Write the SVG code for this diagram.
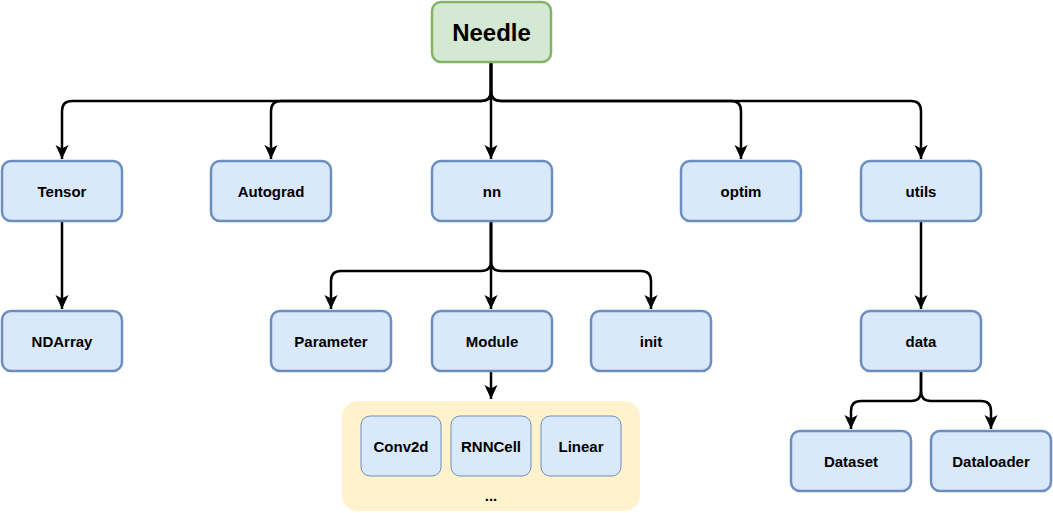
<svg xmlns="http://www.w3.org/2000/svg" width="1053" height="513" viewBox="0 0 1053 513">
<style>
.box{fill:#dae8fc;stroke:#6c8ebf;stroke-width:2.5}
.inner{fill:#dae8fc;stroke:#6c8ebf;stroke-width:1}
.root{fill:#d5e8d4;stroke:#82b366;stroke-width:2.5}
.lbl{font-family:"Liberation Sans",Arial,sans-serif;font-weight:bold;font-size:15px;fill:#000;text-anchor:middle;dominant-baseline:central}
.big{font-size:24px}
.edge{fill:none;stroke:#000;stroke-width:2.5}
</style>
<defs>
<marker id="arr" markerUnits="userSpaceOnUse" markerWidth="16" markerHeight="16" viewBox="0 0 16 16" refX="14" refY="8" orient="auto">
<path d="M0,1.5 L14,8 L0,14.5 L3.5,8 Z" fill="#000"/>
</marker>
</defs>
<g id="connectors">
<path class="edge" marker-end="url(#arr)" d="M491,62 L491,91 Q491,101 481,101 L72,101 Q62,101 62,111 L62,159"/>
<path class="edge" marker-end="url(#arr)" d="M491,62 L491,91 Q491,101 481,101 L281,101 Q271,101 271,111 L271,159"/>
<path class="edge" marker-end="url(#arr)" d="M491,62 L491,159"/>
<path class="edge" marker-end="url(#arr)" d="M491,62 L491,91 Q491,101 501,101 L731,101 Q741,101 741,111 L741,159"/>
<path class="edge" marker-end="url(#arr)" d="M491,62 L491,91 Q491,101 501,101 L911,101 Q921,101 921,111 L921,159"/>
<path class="edge" marker-end="url(#arr)" d="M62,221 L62,309"/>
<path class="edge" marker-end="url(#arr)" d="M491,221 L491,261 Q491,271 481,271 L341,271 Q331,271 331,281 L331,309"/>
<path class="edge" marker-end="url(#arr)" d="M491,221 L491,309"/>
<path class="edge" marker-end="url(#arr)" d="M491,221 L491,261 Q491,271 501,271 L641,271 Q651,271 651,281 L651,309"/>
<path class="edge" marker-end="url(#arr)" d="M491,371 L491,399"/>
<path class="edge" marker-end="url(#arr)" d="M921,221 L921,309"/>
<path class="edge" marker-end="url(#arr)" d="M921,371 L921,391 Q921,401 911,401 L861,401 Q851,401 851,411 L851,429"/>
<path class="edge" marker-end="url(#arr)" d="M921,371 L921,391 Q921,401 931,401 L981,401 Q991,401 991,411 L991,429"/>
</g>
<g id="needle"><rect class="root" x="432" y="2" width="119" height="60" rx="9"/><text class="lbl big" x="491.5" y="32">Needle</text></g>
<g id="tensor"><rect class="box" x="2" y="161" width="120" height="60" rx="9"/><text class="lbl" x="62" y="191">Tensor</text></g>
<g id="autograd"><rect class="box" x="211" y="161" width="120" height="60" rx="9"/><text class="lbl" x="271" y="191">Autograd</text></g>
<g id="nn"><rect class="box" x="432" y="161" width="120" height="60" rx="9"/><text class="lbl" x="492" y="191">nn</text></g>
<g id="optim"><rect class="box" x="681" y="161" width="120" height="60" rx="9"/><text class="lbl" x="741" y="191">optim</text></g>
<g id="utils"><rect class="box" x="861" y="161" width="120" height="60" rx="9"/><text class="lbl" x="921" y="191">utils</text></g>
<g id="ndarray"><rect class="box" x="2" y="311" width="120" height="60" rx="9"/><text class="lbl" x="62" y="341">NDArray</text></g>
<g id="parameter"><rect class="box" x="271" y="311" width="120" height="60" rx="9"/><text class="lbl" x="331" y="341">Parameter</text></g>
<g id="module"><rect class="box" x="432" y="311" width="120" height="60" rx="9"/><text class="lbl" x="492" y="341">Module</text></g>
<g id="init"><rect class="box" x="591" y="311" width="120" height="60" rx="9"/><text class="lbl" x="651" y="341">init</text></g>
<g id="data"><rect class="box" x="861" y="311" width="120" height="60" rx="9"/><text class="lbl" x="921" y="341">data</text></g>
<g id="layers">
<rect x="342" y="401" width="298" height="110" rx="16" fill="#fff2cc"/>
<text class="lbl" x="491" y="495">...</text>
</g>
<g id="conv2d"><rect class="inner" x="361" y="416" width="80" height="60" rx="9"/><text class="lbl" x="401" y="446">Conv2d</text></g>
<g id="rnncell"><rect class="inner" x="451" y="416" width="80" height="60" rx="9"/><text class="lbl" x="491" y="446">RNNCell</text></g>
<g id="linear"><rect class="inner" x="541" y="416" width="80" height="60" rx="9"/><text class="lbl" x="581" y="446">Linear</text></g>
<g id="dataset"><rect class="box" x="791" y="431" width="120" height="60" rx="9"/><text class="lbl" x="851" y="461">Dataset</text></g>
<g id="dataloader"><rect class="box" x="931" y="431" width="120" height="60" rx="9"/><text class="lbl" x="991" y="461">Dataloader</text></g>
</svg>
